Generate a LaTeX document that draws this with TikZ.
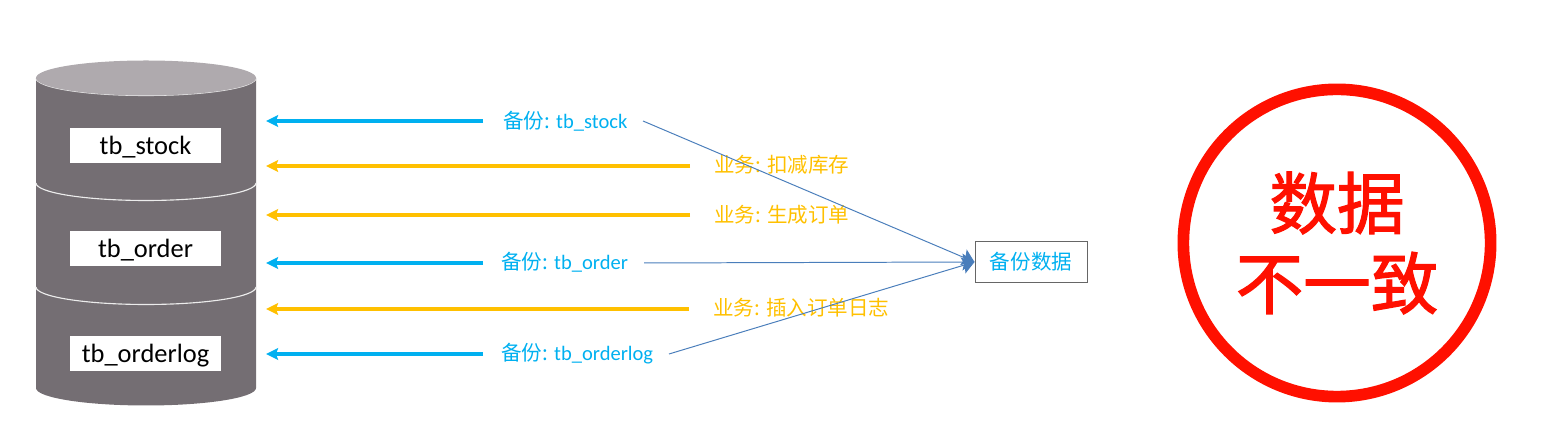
\documentclass[tikz,border=0pt]{standalone}
\usepackage{fontspec}
\setmainfont{Carlito}
\newfontfamily\cjk{Noto Sans CJK SC}
\newfontfamily\cjkheavy[FakeBold=1.8]{Noto Sans CJK SC}
\usetikzlibrary{positioning,arrows.meta}
\definecolor{bakblue}{HTML}{00B0F0}
\definecolor{bizgold}{HTML}{FFC000}
\definecolor{dbbody}{HTML}{746E73}
\definecolor{dbtop}{HTML}{AFAAAE}
\definecolor{linkblue}{HTML}{4A7EBB}
\definecolor{alarmred}{HTML}{FF1000}

\begin{document}
\begin{tikzpicture}[
  x=0.025cm,y=0.025cm,
  >={Stealth[length=3mm,width=2.9mm,inset=0.5mm]},
  tabbox/.style={fill=white,minimum width=3.78cm,minimum height=0.875cm,inner sep=0pt,
                 text height=17pt,text depth=4.2pt,font=\fontsize{18.8}{22}\selectfont},
  bak/.style={font=\fontsize{14.6}{17}\selectfont\cjk,text=bakblue,inner sep=0pt,anchor=west},
  biz/.style={font=\fontsize{14.6}{17}\selectfont\cjk,text=bizgold,inner sep=0pt,anchor=west},
  bakarc/.style={->,line width=2.3pt,bakblue,shorten <=#1},
  bakarc/.default=0.45cm,
  bizarc/.style={->,line width=2.3pt,bizgold,shorten <=0.6cm},
  link/.style={-{Stealth[length=3mm,width=4.2mm,inset=0.5mm]},line width=0.7pt,linkblue}
]
  \useasboundingbox (0,0) rectangle (1566,438);

  % ---------- cylinder ----------
  \fill[dbbody] (36,360) -- (36,50) arc[start angle=180,end angle=360,x radius=110,y radius=17.5]
    -- (256,360) -- cycle;
  \foreach \h in {360,255,151}
    \draw[white!85!gray,line width=0.8pt] (36,\h) arc[start angle=180,end angle=360,x radius=110,y radius=17.5];
  \fill[dbtop] (146,360) ellipse[x radius=110,y radius=17.5];

  \node[tabbox] (stock) at (145.5,292.5) {tb\_stock};
  \node[tabbox] (order) at (145.5,189.5) {tb\_order};
  \node[tabbox] (orderlog) at (145.5,84.5) {tb\_orderlog};

  % ---------- arrow ends at the cylinder ----------
  \coordinate (e1) at (266,317);
  \coordinate (e2) at (266,272);
  \coordinate (e3) at (266,223);
  \coordinate (e4) at (266,175);
  \coordinate (e5) at (266,129);
  \coordinate (e6) at (266,84);

  % ---------- labels ----------
  \node[bak] (b1) at (503,317) {备份: \rmfamily tb\_stock};
  \node[biz] (w1) at (714,273) {业务: 扣减库存};
  \node[biz] (w2) at (714,223) {业务: 生成订单};
  \node[bak] (b2) at (501,176) {备份: \rmfamily tb\_order};
  \node[biz] (w3) at (713,130) {业务: 插入订单日志};
  \node[bak] (b3) at (501,84)  {备份: \rmfamily tb\_orderlog};

  \draw[bakarc=0.5cm] (b1.west) -- (e1);
  \draw[bizarc] (w1.west |- e2) -- (e2);
  \draw[bizarc] (w2.west |- e3) -- (e3);
  \draw[bakarc] (b2.west |- e4) -- (e4);
  \draw[bizarc] (w3.west |- e5) -- (e5);
  \draw[bakarc] (b3.west |- e6) -- (e6);

  % ---------- backup box ----------
  \node[draw=black!60,line width=0.7pt,minimum width=2.8cm,minimum height=1cm,inner sep=0pt,
        font=\fontsize{14.6}{17}\selectfont\cjk,text=bakblue] (backup) at (1031,176) {备份数据};

  % free ends of the links, just right of the labels
  \coordinate (s1) at (643,317);
  \coordinate (s2) at (644,175);
  \coordinate (s3) at (669,84);

  \draw[link] (s1) -- (backup.west);
  \draw[link] (s2) -- (backup.west);
  \draw[link] (s3) -- (backup.west);

  % ---------- verdict ----------
  \node[circle,draw=alarmred,line width=8.3pt,minimum size=7.68cm,inner sep=0pt,align=center,
        text=alarmred,font=\fontsize{48}{57}\selectfont\cjkheavy] (verdict) at (1337,195)
    {数据\\不一致};
\end{tikzpicture}
\end{document}
